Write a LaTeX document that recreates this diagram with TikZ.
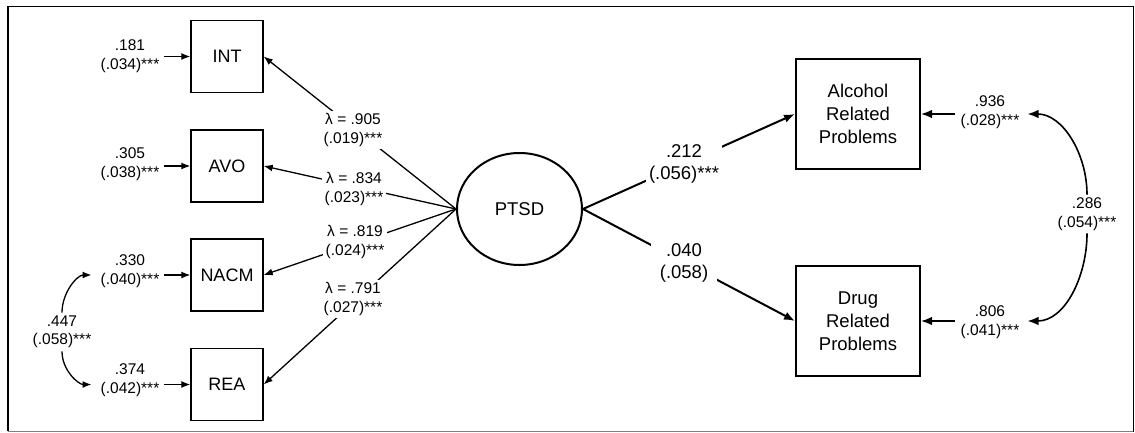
\documentclass[tikz,border=0pt]{standalone}
\usepackage{fontspec}
\setmainfont{Liberation Sans}
\usetikzlibrary{arrows.meta,shapes.geometric}
\pgfdeclarelayer{bg}
\pgfsetlayers{bg,main}

\begin{document}
\begin{tikzpicture}[x=1pt,y=-1pt,
  obsbox/.style={draw, line width=1.4pt, minimum width=72pt, minimum height=72pt,
                 inner sep=0pt, font=\fontsize{18}{22}\selectfont},
  outbox/.style={draw, line width=2pt, minimum width=124pt, minimum height=110pt,
                 inner sep=0pt, align=center, font=\fontsize{18.5}{23}\selectfont},
  latent/.style={draw, ellipse, line width=2pt, minimum width=125pt, minimum height=112pt,
                 inner sep=0pt, font=\fontsize{18.5}{22}\selectfont},
  est/.style={align=center, fill=white, inner sep=3pt, font=\fontsize{15.5}{18.5}\selectfont},
  bigest/.style={align=center, fill=white, inner sep=3pt, font=\fontsize{18.5}{22}\selectfont},
  smallarrow/.style={line width=1.3pt, -{Latex[length=9pt,width=7pt]}},
  bigarrow/.style={line width=2pt, -{Latex[length=11pt,width=8.5pt]}},
]
\useasboundingbox (0,0) rectangle (1135,433);

% outer frame
\draw[line width=1.8pt] (8,431) |- (1133,6.5);
\draw[line width=1pt] (1133,6.5) -- (1133,431.5);
\draw[gray, line width=1.3pt] (8,431.5) -- (1133,431.5);

% indicators, latent factor and outcomes
\node[obsbox] (int)  at (227,56.5)  {INT};
\node[obsbox] (avo)  at (227,166)   {AVO};
\node[obsbox] (nacm) at (227,275)   {NACM};
\node[obsbox] (rea)  at (227,384.5) {REA};
\node[latent] (ptsd) at (519.5,209) {PTSD};
\node[outbox] (alc)  at (858,114)   {Alcohol\\Related\\Problems};
\node[outbox] (drug) at (858,321)   {Drug\\Related\\Problems};

% loadings
\node[est] (l905) at (353,130) {λ = .905\\(.019)***};
\node[est] (l834) at (354,189) {λ = .834\\(.023)***};
\node[est] (l819) at (355,242) {λ = .819\\(.024)***};
\node[est] (l791) at (353,299) {λ = .791\\(.027)***};

% structural paths
\node[bigest] (l212) at (684,164) {.212\\(.056)***};
\node[bigest, inner xsep=9pt, inner ysep=5pt] (l040) at (684,263) {.040\\(.058)};

% residual variances and covariances
\node[est] (l181) at (130,56)   {.181\\(.034)***};
\node[est] (l305) at (130,164)  {.305\\(.038)***};
\node[est] (l330) at (130,271)  {.330\\(.040)***};
\node[est] (l374) at (130,380)  {.374\\(.042)***};
\node[est] (l447) at (62,332)   {.447\\(.058)***};
\node[est] (l936) at (990,112)  {.936\\(.028)***};
\node[est] (l806) at (990,322)  {.806\\(.041)***};
\node[est] (l286) at (1087,214) {.286\\(.054)***};

\begin{pgfonlayer}{bg}
  \draw[smallarrow] (ptsd.west) -- (int.east);
  \draw[smallarrow] (ptsd.west) -- (avo.east);
  \draw[smallarrow] (ptsd.west) -- (nacm.east);
  \draw[smallarrow] (ptsd.west) -- (rea.east);
  \draw[bigarrow] (ptsd.east) -- (alc.west);
  \draw[bigarrow] (ptsd.east) -- (drug.west);
\end{pgfonlayer}

\draw[smallarrow, shorten <=2pt] (l181.east |- int.west)  -- (int.west);
\draw[smallarrow, shorten <=2pt] (l305.east |- avo.west)  -- (avo.west);
\draw[smallarrow, shorten <=2pt] (l330.east |- nacm.west) -- (nacm.west);
\draw[smallarrow, shorten <=2pt] (l374.east |- rea.west)  -- (rea.west);

\draw[smallarrow, shorten >=6pt] (l447.north) to[out=90,in=180] (l330.west |- nacm.west);
\draw[smallarrow, shorten >=6pt] (l447.south) to[out=-90,in=180] (l374.west |- rea.west);

\draw[bigarrow, line width=1.6pt, shorten <=3pt] (l936.west |- alc.east)  -- (alc.east);
\draw[bigarrow, line width=1.6pt, shorten <=3pt] (l806.west |- drug.east) -- (drug.east);

\draw[bigarrow, line width=1.6pt, shorten >=5pt] (l286.north) to[out=90,in=0] (l936.east |- alc.east);
\draw[bigarrow, line width=1.6pt, shorten >=5pt] (l286.south) to[out=-90,in=0] (l806.east |- drug.east);
\end{tikzpicture}
\end{document}
